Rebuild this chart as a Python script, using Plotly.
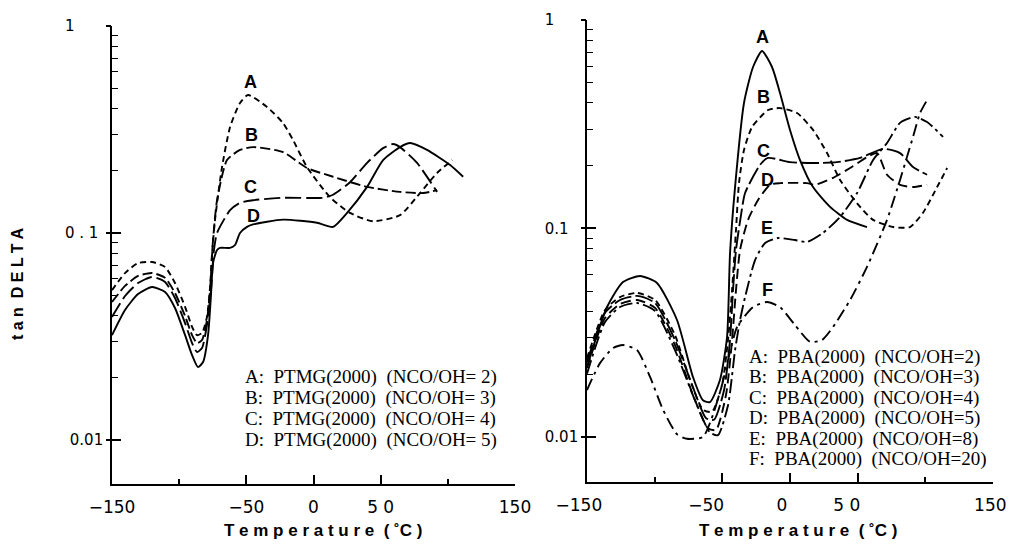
import plotly.graph_objects as go

W, H = 1013, 547

# ---------------- data: left panel (PTMG) ----------------
L_A_T = [-150, -140.3, -130.6, -120.2, -110.5, -103.1, -95.6, -90.4, -86.7, -83.0, -79.3, -77.0, -75.5, -73.3,
         -68.1, -62.1, -54.7, -48.7, -34.6, -22.7, -15.2, -4.8, 12.3, 27.2, 44.3, 64.4, 79.3, 92.0, 103.2]
L_A_Y = [0.053, 0.064, 0.0716, 0.0724, 0.0685, 0.0573, 0.0440, 0.0352, 0.0321, 0.0329, 0.0393, 0.0548, 0.080, 0.116,
         0.208, 0.325, 0.425, 0.464, 0.406, 0.340, 0.281, 0.208, 0.149, 0.125, 0.114, 0.122, 0.156, 0.195, 0.225]

L_B_T = [-150, -140.3, -130.6, -120.2, -110.5, -103.1, -95.6, -90.4, -86.7, -83.0, -79.3, -77.0, -74.8, -71.8,
         -64.4, -54.7, -45.0, -22.7, -4.8, 14.6, 39.9, 64.4, 81.6, 92.0]
L_B_Y = [0.0464, 0.0555, 0.0620, 0.0641, 0.0607, 0.0513, 0.0397, 0.0321, 0.0294, 0.0304, 0.0380, 0.0531, 0.0925, 0.144,
         0.225, 0.252, 0.260, 0.246, 0.206, 0.187, 0.167, 0.158, 0.156, 0.161]

L_C_T = [-150, -140.3, -130.6, -120.2, -110.5, -103.1, -95.6, -90.4, -86.7, -83.0, -79.3, -76.3, -74.1, -71.8,
         -62.1, -54.7, -45.0, -22.7, 7.1, 14.6, 27.2, 39.9, 51.8, 59.2, 64.4, 77.1, 92.0]
L_C_Y = [0.0393, 0.0496, 0.0573, 0.0613, 0.0580, 0.0485, 0.0367, 0.0294, 0.0266, 0.0278, 0.0360, 0.0531, 0.0828, 0.100,
         0.129, 0.140, 0.144, 0.148, 0.148, 0.153, 0.176, 0.218, 0.257, 0.269, 0.260, 0.218, 0.158]

L_D_T = [-150, -140.3, -130.6, -120.2, -110.5, -103.1, -95.6, -90.4, -86.0, -82.2, -78.5, -76.3, -74.8, -71.8,
         -69.6, -62.1, -58.4, -54.7, -49.5, -45.0, -22.7, 2.6, 14.6, 25.0, 39.9, 51.8, 64.4, 71.9, 84.5, 101.7, 111.4]
L_D_Y = [0.0321, 0.0425, 0.0507, 0.0548, 0.0519, 0.0434, 0.0321, 0.0257, 0.0225, 0.0238, 0.0321, 0.0502, 0.0716, 0.0828,
         0.0847, 0.0847, 0.0875, 0.100, 0.107, 0.110, 0.116, 0.112, 0.107, 0.125, 0.167, 0.225, 0.260, 0.272, 0.252, 0.213, 0.187]

# ---------------- data: right panel (PBA) ----------------
R_A_T = [-150, -135.2, -123.4, -110.8, -98.3, -83.5, -71.7, -64.3, -59.1, -51.7, -46.5, -44.3, -40.6, -34.0,
         -27.3, -20.7, -13.3, -7.4, 0.0, 7.4, 17.0, 29.6, 42.2, 56.9]
R_A_Y = [0.0217, 0.0420, 0.0554, 0.0592, 0.0548, 0.0364, 0.0194, 0.0150, 0.0147, 0.0188, 0.0302, 0.0763, 0.158, 0.400,
         0.595, 0.710, 0.595, 0.447, 0.297, 0.213, 0.158, 0.127, 0.110, 0.1016]

R_B_T = [-150, -136.7, -125.6, -113.0, -99.7, -85.0, -73.9, -64.3, -57.6, -50.2, -45.8, -42.8, -39.9, -37.7, -34.0,
         -28.0, -16.2, -7.4, 5.2, 17.0, 27.4, 37.0, 49.6, 61.4, 76.2, 88.7, 98.3, 108.7, 116.1]
R_B_Y = [0.0239, 0.0406, 0.0469, 0.0491, 0.0454, 0.0308, 0.0188, 0.0135, 0.0132, 0.0178, 0.0292, 0.0507, 0.0984, 0.165, 0.238,
         0.307, 0.370, 0.378, 0.358, 0.297, 0.230, 0.171, 0.132, 0.110, 0.1016, 0.1016, 0.119, 0.158, 0.195]

R_C_T = [-150, -136.7, -125.6, -113.0, -99.7, -85.0, -72.4, -62.0, -56.1, -48.7, -44.3, -42.1, -39.9, -36.2, -33.2,
         -22.1, -16.2, 0.0, 17.0, 34.7, 51.8, 68.8, 81.3, 90.9, 101.3]
R_C_Y = [0.0229, 0.0394, 0.0454, 0.0475, 0.0439, 0.0292, 0.0178, 0.0123, 0.0121, 0.0168, 0.0292, 0.0507, 0.0789, 0.116, 0.148,
         0.202, 0.218, 0.208, 0.206, 0.208, 0.218, 0.241, 0.230, 0.197, 0.181]

R_D_T = [-150, -136.7, -125.6, -113.0, -99.7, -85.0, -71.7, -60.6, -54.7, -47.3, -42.8, -39.9, -36.9, -31.0, -23.6,
         -14.7, -7.4, 12.6, 18.5, 31.8, 44.4, 56.9, 64.3, 71.7, 81.3, 90.9, 101.3]
R_D_Y = [0.0214, 0.0372, 0.0434, 0.0454, 0.0416, 0.0276, 0.0159, 0.0110, 0.0108, 0.0159, 0.0292, 0.0507, 0.0789, 0.110, 0.137,
         0.162, 0.165, 0.165, 0.162, 0.175, 0.195, 0.220, 0.230, 0.181, 0.162, 0.158, 0.162]

R_E_T = [-150, -136.7, -125.6, -113.0, -99.7, -85.0, -70.2, -59.1, -53.2, -45.8, -40.6, -36.9, -33.2, -25.8, -18.4,
         -8.8, 3.7, 12.6, 24.4, 37.0, 49.6, 61.4, 71.7, 81.3, 92.4, 101.3, 113.1]
R_E_Y = [0.0201, 0.0356, 0.0420, 0.0439, 0.0402, 0.0261, 0.0150, 0.0105, 0.0102, 0.0142, 0.0261, 0.0364, 0.0469, 0.0706, 0.0852,
         0.090, 0.088, 0.0862, 0.0952, 0.1136, 0.148, 0.213, 0.257, 0.321, 0.343, 0.324, 0.275]

R_F_T = [-150, -140.4, -130.8, -123.4, -113.0, -103.4, -93.8, -83.5, -76.1, -64.3, -56.9, -50.2, -44.3, -39.1,
         -27.3, -17.0, -7.4, 3.7, 14.8, 23.7, 31.8, 44.4, 56.9, 71.7, 81.3, 90.9, 96.1, 101.3]
R_F_Y = [0.0168, 0.0226, 0.0267, 0.0276, 0.0261, 0.0194, 0.0135, 0.0103, 0.0098, 0.0100, 0.0128, 0.0178, 0.0256, 0.0337,
         0.0420, 0.0444, 0.0420, 0.0344, 0.0286, 0.0292, 0.0337, 0.0454, 0.0654, 0.110, 0.171, 0.275, 0.358, 0.413]

LEFT_LEGEND = ["A:  PTMG(2000)  (NCO/OH= 2)", "B:  PTMG(2000)  (NCO/OH= 3)",
               "C:  PTMG(2000)  (NCO/OH= 4)", "D:  PTMG(2000)  (NCO/OH= 5)"]
RIGHT_LEGEND = ["A:  PBA(2000)  (NCO/OH=2)", "B:  PBA(2000)  (NCO/OH=3)", "C:  PBA(2000)  (NCO/OH=4)",
                "D:  PBA(2000)  (NCO/OH=5)", "E:  PBA(2000)  (NCO/OH=8)", "F:  PBA(2000)  (NCO/OH=20)"]

X_TICKS = [-150, -50, 0, 50, 150]
NB = "\u00a0"
X_TEXT_L = ["\u2212150", "\u221250", "0", "5 0", "150"]
X_TEXT_R = ["\u2212150" + NB * 3, "\u221250" + NB * 6, "0" + NB * 3, "5 0" + NB * 4, "150" + NB]
Y_TICKS = [0.01, 0.1, 1]
Y_TEXT_L = ["0.01", "0 . 1" + NB, "1" + NB * 6]
Y_TEXT_R = ["0.01", "0.1" + NB * 2, "1" + NB * 5]
Y_MINOR = [m * 10 ** e for e in (-2, -1) for m in range(2, 10)]

LEFT_STYLES = [("6px,4px", L_A_T, L_A_Y), ("10px,4px", L_B_T, L_B_Y), ("16px,5px", L_C_T, L_C_Y), ("solid", L_D_T, L_D_Y)]
RIGHT_STYLES = [("solid", R_A_T, R_A_Y), ("6px,4px", R_B_T, R_B_Y), ("18px,4px", R_C_T, R_C_Y),
                ("10px,5px", R_D_T, R_D_Y), ("14px,4px,3px,4px", R_E_T, R_E_Y), ("12px,5px,3px,5px", R_F_T, R_F_Y)]

fig = go.Figure()
for dash, t, y in LEFT_STYLES:
    fig.add_trace(go.Scatter(x=t, y=y, mode="lines", xaxis="x", yaxis="y",
                             line=dict(color="black", width=1.9, dash=dash, shape="spline", smoothing=0.6)))
for dash, t, y in RIGHT_STYLES:
    fig.add_trace(go.Scatter(x=t, y=y, mode="lines", xaxis="x2", yaxis="y2",
                             line=dict(color="black", width=1.9, dash=dash, shape="spline", smoothing=0.6)))
# empty traces to carry the outer halves of the major y ticks
fig.add_trace(go.Scatter(x=[], y=[], xaxis="x", yaxis="y3"))
fig.add_trace(go.Scatter(x=[], y=[], xaxis="x2", yaxis="y4"))

xtick_font = dict(family="DejaVu Sans", size=17, color="black")
ytick_font = dict(family="DejaVu Sans", size=15, color="black")


def xaxis(domain, anchor, text):
    return dict(domain=domain, anchor=anchor, range=[-150, 150], showline=True, linecolor="black", linewidth=1.6,
                ticks="inside", ticklen=9, tickwidth=1.5, tickcolor="black", tickvals=X_TICKS, ticktext=text,
                tickfont=xtick_font, ticklabelstandoff=7, automargin=False,
                minor=dict(ticks="inside", tickvals=[-100, 100], ticklen=5, tickwidth=1.5, tickcolor="black"),
                showgrid=False, zeroline=False, fixedrange=True)


def yaxis(domain, anchor, rng, text):
    return dict(domain=domain, anchor=anchor, type="log", range=rng, showline=True, linecolor="black", linewidth=1.6,
                ticks="inside", ticklen=9, tickwidth=1.5, tickcolor="black", tickvals=Y_TICKS, ticktext=text,
                tickfont=ytick_font, ticklabelstandoff=4, automargin=False,
                minor=dict(ticks="inside", tickvals=Y_MINOR + [0.2, 0.3, 0.4, 0.5, 0.6, 0.7, 0.8, 0.9],
                           ticklen=6, tickwidth=1.3, tickcolor="black"),
                showgrid=False, zeroline=False, fixedrange=True)


L_XDOM = [112 / W, 515 / W]
R_XDOM = [587 / W, 993 / W]
L_YDOM = [1 - 484 / H, 1 - 26 / H]
R_YDOM = [1 - 482 / H, 1 - 20 / H]
L_YR = [-2.2126, 0]
R_YR = [-2.216, 0]

fig.update_layout(
    width=W, height=H, margin=dict(l=0, r=0, t=0, b=0, pad=0, autoexpand=False),
    paper_bgcolor="white", plot_bgcolor="white", showlegend=False,
    xaxis=xaxis(L_XDOM, "y", X_TEXT_L),
    yaxis=yaxis(L_YDOM, "x", L_YR, Y_TEXT_L),
    xaxis2=xaxis(R_XDOM, "y2", X_TEXT_R),
    yaxis2=yaxis(R_YDOM, "x2", R_YR, Y_TEXT_R),
    yaxis3=dict(overlaying="y", anchor="x", side="left", type="log", range=L_YR, ticks="outside", ticklen=5,
                tickwidth=1.5, tickcolor="black", tickvals=Y_TICKS, showticklabels=False, showline=False,
                showgrid=False, zeroline=False, fixedrange=True, automargin=False),
    yaxis4=dict(overlaying="y2", anchor="x2", side="left", type="log", range=R_YR, ticks="outside", ticklen=5,
                tickwidth=1.5, tickcolor="black", tickvals=Y_TICKS, showticklabels=False, showline=False,
                showgrid=False, zeroline=False, fixedrange=True, automargin=False),
)

ann = []
# axis titles
title_font = dict(family="Liberation Sans", size=17, color="black", weight="bold")
xt = "T e m p e r a t u r e  ( \u02daC )"
ann.append(dict(text=xt, x=323 / W, y=1 - 530 / H, xref="paper", yref="paper", showarrow=False,
                xanchor="center", yanchor="middle", font=title_font))
ann.append(dict(text=xt, x=798 / W, y=1 - 530 / H, xref="paper", yref="paper", showarrow=False,
                xanchor="center", yanchor="middle", font=title_font))
ann.append(dict(text="t a n  D E L T A", x=18 / W, y=1 - 284 / H, xref="paper", yref="paper", showarrow=False,
                textangle=-90, xanchor="center", yanchor="middle",
                font=dict(family="Liberation Sans", size=16, color="black", weight="bold")))

# curve letters
lab_font = dict(family="Liberation Sans", size=18, color="black", weight="bold")
LEFT_LABEL_POS = [("A", 250, 82), ("B", 251, 135), ("C", 250, 187), ("D", 253, 216)]
RIGHT_LABEL_POS = [("A", 762, 37), ("B", 763, 97), ("C", 763, 151), ("D", 767, 180), ("E", 767, 228), ("F", 767, 290)]
for s, px, py in LEFT_LABEL_POS + RIGHT_LABEL_POS:
    ann.append(dict(text=s, x=px / W, y=1 - py / H, xref="paper", yref="paper", showarrow=False,
                    xanchor="center", yanchor="middle", font=lab_font))

# legends
leg_font = dict(family="Liberation Serif", size=19, color="black")
for i, s in enumerate(LEFT_LEGEND):
    ann.append(dict(text=s, x=243 / W, y=1 - (377 + 21 * i) / H, xref="paper", yref="paper", showarrow=False,
                    xanchor="left", yanchor="middle", font=leg_font))
for i, s in enumerate(RIGHT_LEGEND):
    ann.append(dict(text=s, x=747 / W, y=1 - (357 + 20.4 * i) / H, xref="paper", yref="paper", showarrow=False,
                    xanchor="left", yanchor="middle", font=leg_font))

fig.update_layout(annotations=ann)
fig.write_html("out.html")
